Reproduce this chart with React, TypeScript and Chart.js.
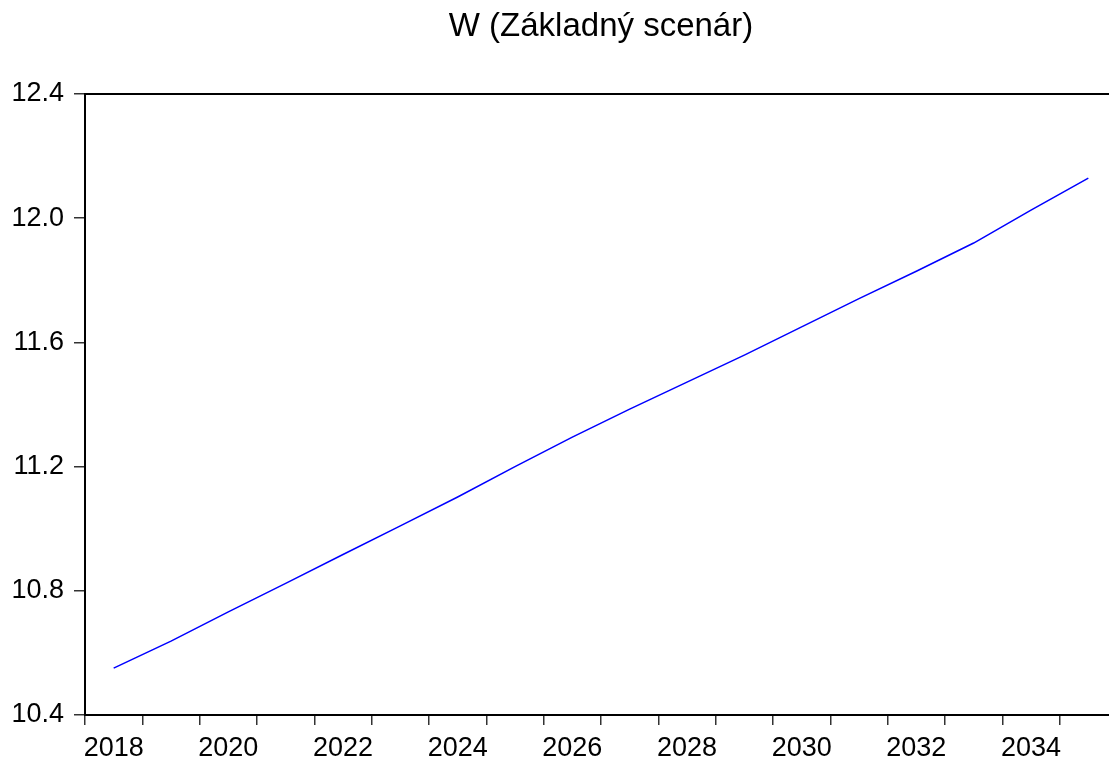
import React, { useEffect, useRef } from "react";
import { Chart, registerables } from "chart.js";

Chart.register(...registerables);

const chartTitle = "W (Základný scenár)";
const years = [
  "2018", "2019", "2020", "2021", "2022", "2023", "2024", "2025", "2026",
  "2027", "2028", "2029", "2030", "2031", "2032", "2033", "2034", "2035",
];
const wValues = [
  10.551, 10.638, 10.732, 10.824, 10.917, 11.009, 11.102, 11.200, 11.295,
  11.385, 11.472, 11.559, 11.650, 11.741, 11.829, 11.920, 12.026, 12.129,
];
const yTicks = [10.4, 10.8, 11.2, 11.6, 12.0, 12.4];

const FONT = "'Liberation Sans', Arial, sans-serif";

const frame = {
  id: "frame",
  afterDraw(chart: any) {
    const { ctx, chartArea } = chart;
    ctx.save();
    ctx.strokeStyle = "#000";
    ctx.lineWidth = 2;
    ctx.beginPath();
    ctx.moveTo(chartArea.left, chartArea.top);
    ctx.lineTo(chartArea.right, chartArea.top);
    ctx.lineTo(chartArea.right, chartArea.bottom);
    ctx.stroke();
    ctx.restore();
  },
};

export default function App() {
  const ref = useRef<HTMLCanvasElement | null>(null);

  useEffect(() => {
    if (!ref.current) return;
    const chart = new Chart(ref.current, {
      type: "line",
      data: {
        labels: years,
        datasets: [
          {
            label: "W",
            data: wValues,
            borderColor: "#0000ff",
            borderWidth: 1.5,
            pointRadius: 0,
            tension: 0,
            fill: false,
          },
        ],
      },
      options: {
        responsive: false,
        animation: false,
        devicePixelRatio: 1,
        layout: { padding: { top: 0, right: 8, bottom: 0, left: 0 } },
        plugins: {
          legend: { display: false },
          tooltip: { enabled: false },
          title: {
            display: true,
            text: chartTitle,
            color: "#000",
            fullSize: false,
            font: { family: FONT, size: 33, weight: "normal" },
            padding: { top: 7, bottom: 47.4 },
          },
        },
        scales: {
          x: {
            type: "category",
            offset: true,
            grid: {
              display: true,
              offset: true,
              drawOnChartArea: false,
              drawTicks: true,
              tickLength: 10,
              color: "#333",
              lineWidth: 1.5,
            },
            border: { display: true, color: "#000", width: 2 },
            ticks: {
              autoSkip: false,
              maxRotation: 0,
              minRotation: 0,
              color: "#000",
              padding: 7,
              font: { family: FONT, size: 27 },
              callback: (_v: any, i: number) => (i % 2 === 0 ? years[i] : ""),
            },
            afterFit: (s: any) => {
              s.height = 46;
            },
          },
          y: {
            min: 10.4,
            max: 12.4,
            grid: {
              display: true,
              drawOnChartArea: false,
              drawTicks: true,
              tickLength: 11,
              color: "#333",
              lineWidth: 1.5,
            },
            border: { display: true, color: "#000", width: 2 },
            afterBuildTicks: (s: any) => {
              s.ticks = yTicks.map((v) => ({ value: v }));
            },
            ticks: {
              color: "#000",
              padding: 10,
              font: { family: FONT, size: 27 },
              callback: (v: any) => Number(v).toFixed(1),
            },
            afterFit: (s: any) => {
              s.width = 85;
            },
          },
        },
      },
      plugins: [frame],
    });
    return () => chart.destroy();
  }, []);

  return (
    <div
      style={{
        position: "fixed",
        left: 0,
        top: 0,
        width: 1109,
        height: 761,
        overflow: "hidden",
        background: "#fff",
      }}
    >
      <canvas ref={ref} width={1125} height={761} style={{ display: "block" }} />
    </div>
  );
}
